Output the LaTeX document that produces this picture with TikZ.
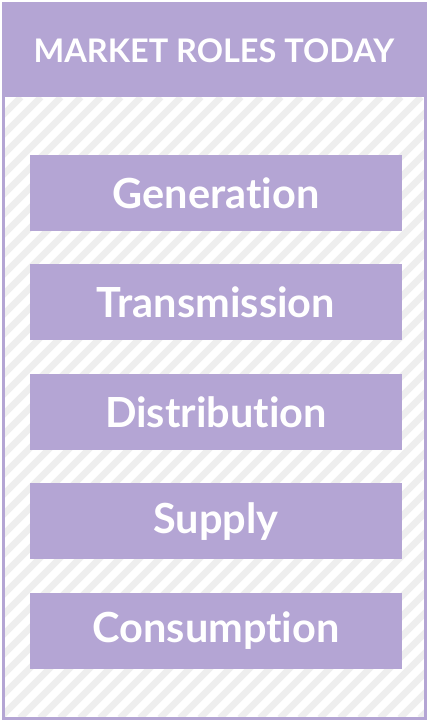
\documentclass[tikz,border=0pt]{standalone}
\usepackage{fontspec}
\usetikzlibrary{positioning}
\newfontfamily\rolefont{Lato}[Ligatures={NoCommon,NoRare}]
\definecolor{rolepurple}{RGB}{180,165,212}
\definecolor{stripegrey}{RGB}{238,238,238}
\tikzset{
  rolebox/.style={fill=rolepurple, text=white, minimum width=372pt,
    minimum height=76pt, inner sep=0pt, font=\rolefont\bfseries\fontsize{41.5}{46}\selectfont},
  headtext/.style={text=white, inner sep=0pt, font=\rolefont\bfseries\fontsize{32.5}{36}\selectfont}
}
\begin{document}
\begin{tikzpicture}[x=1pt,y=-1pt]
      \fill[white] (0,0) rectangle (428,723);
      \useasboundingbox (0,0) rectangle (428,723);
      % hatched body
      \begin{scope}
        \clip (3,97) rectangle (425,718);
        \foreach \i in {-640,-620,...,440}
          \draw[stripegrey, line width=6.5pt] (\i,718) -- (\i+621,97);
      \end{scope}
      % header and frame
      \fill[rolepurple] (3,3) rectangle (425,97);
      \draw[rolepurple, line width=3pt] (3,3) rectangle (425,718);
      \node[headtext] (head) at (214,51) {MARKET ROLES TODAY};
      % roles
      \node[rolebox] (gen) at (216,193) {Generation};
      \node[rolebox, below=33pt of gen] (trans) {Transmission};
      \node[rolebox, below=33pt of trans] (dist) {Distribution};
      \node[rolebox, below=33pt of dist] (sup) {Supply};
      \node[rolebox, below=33pt of sup] (cons) {Consumption};
    \end{tikzpicture}
\end{document}
